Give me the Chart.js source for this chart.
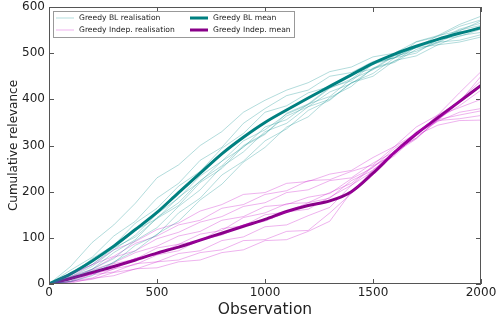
<!DOCTYPE html>
<html>
<head>
<meta charset="utf-8">
<script src="https://cdn.jsdelivr.net/npm/chart.js@4/dist/chart.umd.min.js"></script>
<style>
  html, body { margin: 0; padding: 0; background: #fff; }
  #wrap { width: 496px; height: 322px; position: relative; }
</style>
</head>
<body>
<div id="wrap"><canvas id="c"></canvas></div>
<script>
// x positions (observation count)
const obs = [0,100,200,300,400,500,600,700,800,900,1000,1100,1200,1300,1400,1500,1600,1700,1800,1900,2000];

// Greedy BL realisations
const blRuns = [
    [0,38,90,128,175,230,258,300,330,372,398,420,436,460,470,492,500,525,538,562,580],
    [0,30,58,104,136,186,218,268,296,348,380,408,420,450,458,482,490,515,528,552,565],
    [0,18,55,84,132,164,212,244,294,326,372,386,414,428,455,466,496,512,538,548,570],
    [0,15,38,74,106,152,186,234,266,310,334,368,388,424,444,478,490,512,518,538,545],
    [0,14,32,68,96,144,176,224,256,300,326,364,384,416,434,466,480,508,522,546,555],
    [0,24,52,78,116,142,188,222,266,296,340,356,390,406,444,464,494,504,524,528,540],
    [0,10,32,55,94,122,168,204,254,286,330,348,384,400,436,450,484,494,518,524,535],
    [0,20,42,78,102,142,170,220,250,298,324,370,390,426,440,476,490,524,536,558,572],
    [0,6,28,46,84,106,154,186,236,266,310,336,376,398,436,456,490,500,530,536,552],
    [0,5,18,48,72,108,136,182,216,264,296,340,362,404,428,468,482,514,524,550,560]
];

// Greedy Indep. realisations
const indepRuns = [
    [0,22,42,74,92,118,132,158,172,194,198,218,222,238,246,274,298,340,366,414,460],
    [0,16,42,60,88,104,128,138,164,172,194,202,224,226,244,258,298,326,364,382,400],
    [0,16,32,58,72,98,112,134,146,168,176,198,204,224,230,262,286,330,356,398,440],
    [0,10,30,46,68,82,104,114,138,146,168,172,188,196,228,252,294,324,366,394,450],
    [0,12,22,44,54,78,86,108,116,144,154,174,176,198,218,256,282,326,352,372,380],
    [0,6,22,32,56,64,86,94,120,126,150,156,176,186,224,246,288,316,356,366,375],
    [0,6,13,33,42,63,72,96,106,128,136,156,162,188,214,254,282,326,354,394,430],
    [0,4,20,26,44,48,66,72,94,102,124,128,148,166,214,244,288,316,354,358,365],
    [0,5,10,25,32,48,52,68,74,94,96,114,116,154,196,248,278,322,344,354,355],
    [0,2,12,18,33,35,48,52,68,74,94,96,114,136,200,236,284,314,358,386,420]
];

// mean curves
const blMean = [0,22,50,82,118,155,198,240,282,318,350,377,403,428,453,478,498,515,530,543,555];
const indepMean = [0,12,25,38,52,67,80,95,110,125,140,157,170,180,200,240,285,325,360,395,430];

const xTicks = [0,500,1000,1500,2000];
const yTicks = [0,100,200,300,400,500,600];

const font = 'DejaVu Sans';

function toPoints(vals) {
    return vals.map((v, i) => ({x: obs[i], y: v}));
}

const datasets = [];
blRuns.forEach(r => datasets.push({
    data: toPoints(r), borderColor: 'rgba(0,140,140,0.3)', borderWidth: 1
}));
indepRuns.forEach(r => datasets.push({
    data: toPoints(r), borderColor: 'rgba(200,0,200,0.3)', borderWidth: 1
}));
datasets.push({data: toPoints(blMean), borderColor: '#008080', borderWidth: 3, cubicInterpolationMode: 'monotone'});
datasets.push({data: toPoints(indepMean), borderColor: '#880088', borderWidth: 3, cubicInterpolationMode: 'monotone'});

// frame, inward ticks and the legend box
const frame = {
    id: 'frame',
    afterDatasetsDraw(chart) {
        const {ctx, chartArea: a, scales: {x, y}} = chart;
        ctx.save();
        ctx.strokeStyle = '#555';
        ctx.lineWidth = 1;
        ctx.beginPath();
        xTicks.forEach(t => {
            const px = Math.round(x.getPixelForValue(t)) + 0.5;
            ctx.moveTo(px, a.bottom); ctx.lineTo(px, a.bottom - 5);
            ctx.moveTo(px, a.top); ctx.lineTo(px, a.top + 5);
        });
        yTicks.forEach(t => {
            const py = Math.round(y.getPixelForValue(t)) + 0.5;
            ctx.moveTo(a.left, py); ctx.lineTo(a.left + 5, py);
            ctx.moveTo(a.right, py); ctx.lineTo(a.right - 5, py);
        });
        ctx.stroke();
        ctx.strokeRect(Math.round(a.left) + 0.5, Math.round(a.top) + 0.5,
            Math.round(a.width) - 1, Math.round(a.height) - 1);

        // legend
        const bx = a.left + 4, by = a.top + 4, bw = 241, bh = 26;
        ctx.fillStyle = '#fff';
        ctx.fillRect(bx, by, bw, bh);
        ctx.strokeStyle = '#999';
        ctx.strokeRect(bx + 0.5, by + 0.5, bw, bh);
        const items = [
            ['Greedy BL realisation', 'rgba(0,140,140,0.3)', 1, 0, 0],
            ['Greedy Indep. realisation', 'rgba(200,0,200,0.3)', 1, 0, 1],
            ['Greedy BL mean', '#008080', 3, 1, 0],
            ['Greedy Indep. mean', '#880088', 3, 1, 1]
        ];
        ctx.font = '7.6px "' + font + '"';
        ctx.textBaseline = 'middle';
        items.forEach(([label, col, w, c, r]) => {
            const lx = bx + (c ? 137 : 3);
            const ly = by + 7 + r * 12;
            ctx.strokeStyle = col;
            ctx.lineWidth = w;
            ctx.beginPath();
            ctx.moveTo(lx, ly); ctx.lineTo(lx + 18, ly);
            ctx.stroke();
            ctx.fillStyle = '#222';
            ctx.fillText(label, lx + 23, ly);
        });
        ctx.restore();
    }
};

new Chart(document.getElementById('c'), {
    type: 'line',
    data: {datasets: datasets},
    options: {
        responsive: true,
        maintainAspectRatio: false,
        animation: false,
        events: [],
        elements: {point: {radius: 0}, line: {tension: 0}},
        layout: {padding: {top: 7, right: 15, left: 0, bottom: 0}},
        plugins: {legend: {display: false}, tooltip: {enabled: false}},
        scales: {
            x: {
                type: 'linear', min: 0, max: 2000,
                afterBuildTicks: s => { s.ticks = xTicks.map(v => ({value: v})); },
                afterFit: s => { s.height = 38; s.paddingLeft = 0; s.paddingRight = 0; },
                grid: {display: false, drawTicks: false},
                border: {display: false},
                ticks: {color: '#222', padding: 2, maxRotation: 0, callback: v => String(v), font: {family: font, size: 12}},
                title: {display: true, text: 'Observation', color: '#222', padding: {top: 4, bottom: 3}, font: {family: font, size: 15.5}}
            },
            y: {
                min: 0, max: 600,
                afterBuildTicks: s => { s.ticks = yTicks.map(v => ({value: v})); },
                afterFit: s => { s.width = 49; s.paddingTop = 0; s.paddingBottom = 0; },
                grid: {display: false, drawTicks: false},
                border: {display: false},
                ticks: {color: '#222', padding: 4, callback: v => String(v), font: {family: font, size: 12}},
                title: {display: true, text: 'Cumulative relevance', color: '#222', padding: {top: 7, bottom: 0}, font: {family: font, size: 12}}
            }
        }
    },
    plugins: [frame]
});
</script>
</body>
</html>
